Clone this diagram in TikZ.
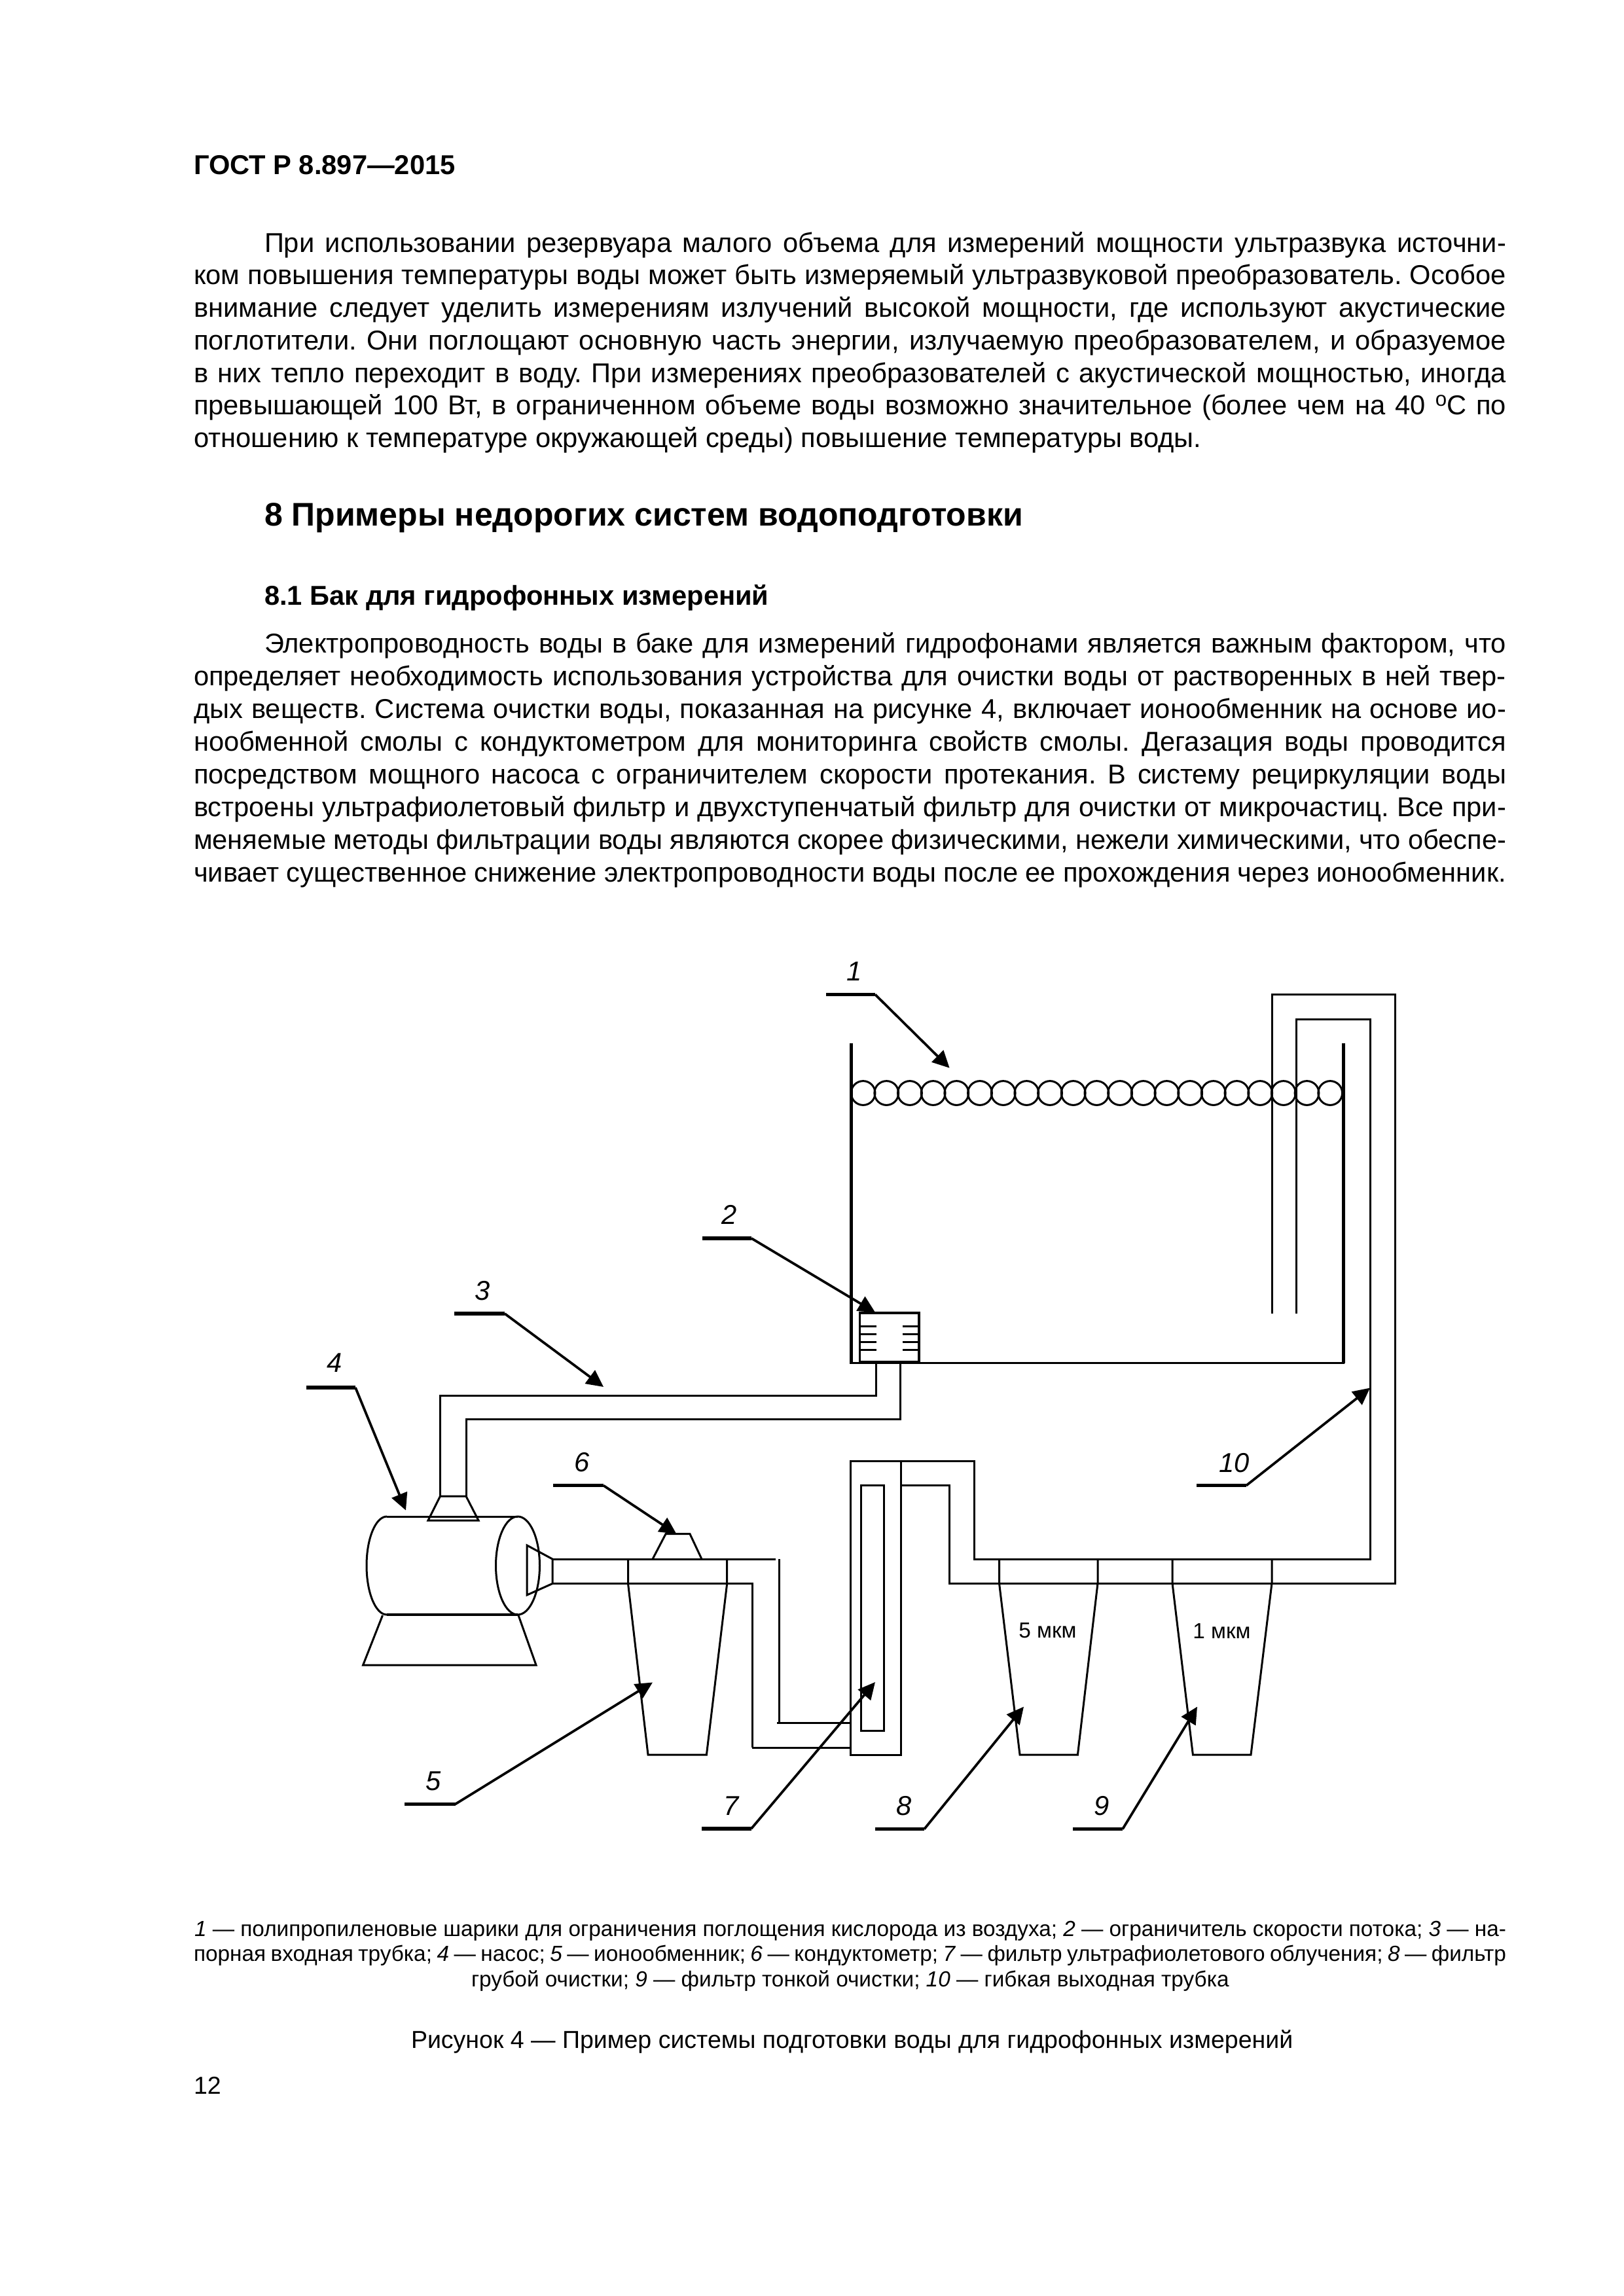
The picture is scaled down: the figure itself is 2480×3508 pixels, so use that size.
\documentclass[tikz,border=0pt]{standalone}
\usepackage{fontspec}
\setmainfont{Liberation Sans}
\usetikzlibrary{arrows.meta}
\frenchspacing
\newdimen\lw
\lw=0.24bp
\newcommand{\bodyfont}{\fontsize{10bp}{12bp}\selectfont}
\newcommand{\capfont}{\fontsize{8bp}{9.2bp}\selectfont}
\newcommand{\figfont}{\fontsize{9bp}{11bp}\selectfont}
% justified line: name, x, baseline y, text; right edge at 2301
\newcommand{\jline}[4]{\node[txt] (#1) at (#2,#3) {\bodyfont\frenchspacing\hbox to \dimexpr 2301\lw-#2\lw\relax{#4}};}
\newcommand{\cjline}[4]{\node[txt] (#1) at (#2,#3) {\capfont\frenchspacing\hbox to \dimexpr 2301\lw-#2\lw\relax{#4}};}
\newcommand{\pline}[4]{\node[txt] (#1) at (#2,#3) {\bodyfont #4};}
\newcommand{\leaderline}[8]{%
  \coordinate (#1a) at (#2,#3); \coordinate (#1b) at (#4,#3); \coordinate (#1c) at (#5,#6);
  \draw[leadh] (#1a) -- (#1b);
  \draw[leadd] (#1b) -- (#1c);
  \node[numlab] (#1t) at (#7,#8) {#1};}
\tikzset{
  txt/.style={anchor=base west,inner sep=0pt,outer sep=0pt},
  thinl/.style={line width=0.72bp,line join=miter},
  wall/.style={line width=1.2bp},
  boxl/.style={line width=0.85bp},
  leadh/.style={line width=1.25bp},
  leadd/.style={line width=0.9bp,-{Triangle[length=6.2bp,width=6bp]}},
  numlab/.style={inner sep=0pt,font=\fontsize{10bp}{12bp}\selectfont\itshape},
  mkm/.style={inner sep=0pt,font=\capfont}
}
\begin{document}
\begin{tikzpicture}[x=0.24bp,y=-0.24bp]
\useasboundingbox (0,0) rectangle (2480,3508);
\fill[white] (0,0) rectangle (2480,3508);
% ---------- header and text
\node[txt] (hdr) at (296,266.5) {\fontsize{10bp}{12bp}\selectfont\bfseries ГОСТ Р 8.897—2015};
\jline{a1}{404}{385}{При использовании резервуара малого объема для измерений мощности ультразвука источни-}
\jline{a2}{296}{434.7}{ком повышения температуры воды может быть измеряемый ультразвуковой преобразователь. Особое}
\jline{a3}{296}{484.5}{внимание следует уделить измерениям излучений высокой мощности, где используют акустические}
\jline{a4}{296}{534.3}{поглотители. Они поглощают основную часть энергии, излучаемую преобразователем, и образуемое}
\jline{a5}{296}{584.1}{в них тепло переходит в воду. При измерениях преобразователей с акустической мощностью, иногда}
\jline{a6}{296}{633.9}{превышающей 100 Вт, в ограниченном объеме воды возможно значительное (более чем на 40 \raisebox{0.33em}{\fontsize{7.5bp}{8bp}\selectfont о}С по}
\pline{a7}{296}{683.7}{отношению к температуре окружающей среды) повышение температуры воды.}
\node[txt] (h8) at (404,803.4) {\fontsize{12bp}{14bp}\selectfont\bfseries 8 Примеры недорогих систем водоподготовки};
\node[txt] (h81) at (404,924.8) {\fontsize{10bp}{12bp}\selectfont\bfseries 8.1 Бак для гидрофонных измерений};
\jline{b1}{404}{997}{Электропроводность воды в баке для измерений гидрофонами является важным фактором, что}
\jline{b2}{296}{1047.4}{определяет необходимость использования устройства для очистки воды от растворенных в ней твер-}
\jline{b3}{296}{1097.5}{дых веществ. Система очистки воды, показанная на рисунке 4, включает ионообменник на основе ио-}
\jline{b4}{296}{1147.6}{нообменной смолы с кондуктометром для мониторинга свойств смолы. Дегазация воды проводится}
\jline{b5}{296}{1197.6}{посредством мощного насоса с ограничителем скорости протекания. В систему рециркуляции воды}
\jline{b6}{296}{1247.6}{встроены ультрафиолетовый фильтр и двухступенчатый фильтр для очистки от микрочастиц. Все при-}
\jline{b7}{296}{1297.7}{меняемые методы фильтрации воды являются скорее физическими, нежели химическими, что обеспе-}
\jline{b8}{296}{1347.8}{чивает существенное снижение электропроводности воды после ее прохождения через ионообменник.}
% ---------- tank
\draw[wall] (1300,1593.5) -- (1300,2083);
\draw[wall] (2052,1593.5) -- (2052,2083);
\draw[thinl] (1298,2082) -- (2054,2082);
\foreach \i in {0,...,20} { \draw[thinl] ({1318.6+35.68*\i},1670) circle [radius=18.4]; }
% flexible outlet tube
\draw[thinl] (1943,2007) -- (1943,1519.5) -- (2131,1519.5) -- (2131,2419) -- (1450,2419) -- (1450,2269.6) -- (1376,2269.6);
\draw[thinl] (1980,2007) -- (1980,1557) -- (2093.5,1557) -- (2093.5,2382) -- (1488,2382) -- (1488,2232) -- (1376,2232);
% flow limiter
\draw[boxl] (1313.5,2006) rectangle (1404,2080.5);
\foreach \y in {2026,2038,2050,2062} {
  \draw[thinl] (1315,\y) -- (1339,\y);
  \draw[thinl] (1378.6,\y) -- (1403,\y);
}
% inlet pipe
\draw[thinl] (1338,2081) -- (1338,2132) -- (672.5,2132) -- (672.5,2286);
\draw[thinl] (1375,2081) -- (1375,2168.5) -- (712,2168.5) -- (712,2286);
% pump
\draw[thinl] (672.5,2286) -- (712,2286) -- (731,2323) -- (654,2323) -- cycle;
\draw[thinl] (591,2317) -- (791,2317);
\draw[boxl] (591,2467) -- (791,2467);
\draw[thinl] (591,2317) arc [start angle=270,end angle=90,x radius=31,y radius=75];
\draw[thinl] (791,2392) ellipse [x radius=33.5,y radius=75];
\draw[thinl] (584.5,2468) -- (554.6,2544) -- (819,2544) -- (792,2468);
\draw[thinl] (844,2382) -- (805,2361) -- (805,2437) -- (844,2419.5) -- cycle;
% pipe pump -> UV filter
\draw[thinl] (844,2382) -- (1185,2382);
\draw[thinl] (1190,2382) -- (1190,2632.5);
\draw[thinl] (1187,2632.5) -- (1299.5,2632.5);
\draw[thinl] (844,2419.5) -- (1149,2419.5) -- (1149,2670);
\draw[thinl] (1149,2670) -- (1299.5,2670);
% ion exchanger
\draw[thinl] (959.5,2382) -- (959.5,2419.5) -- (990,2681) -- (1079.4,2681) -- (1110.7,2419.5) -- (1110.7,2382);
% conductometer
\draw[thinl] (997,2382) -- (1017,2343.7) -- (1054,2343.7) -- (1072,2382);
% UV filter
\draw[thinl] (1299.5,2232) rectangle (1376,2681);
\draw[thinl] (1315,2269) rectangle (1350.5,2644.5);
% fine and coarse filters
\draw[thinl] (1526.5,2382) -- (1526.5,2419) -- (1558,2681) -- (1646.4,2681) -- (1677,2419) -- (1677,2382);
\draw[thinl] (1791,2382) -- (1791,2419) -- (1822.4,2681) -- (1911,2681) -- (1943,2419) -- (1943,2382);
\node[mkm] (m5) at (1600.5,2491.5) {5 мкм};
\node[mkm] (m1) at (1866.5,2491.5) {1 мкм};
% ---------- leaders
\leaderline{1}{1262}{1519.5}{1337}{1450.6}{1631.7}{1305}{1484}
\leaderline{2}{1073}{1892}{1148}{1337}{2005}{1114}{1856}
\leaderline{3}{694}{2007}{771}{922}{2119}{737}{1972}
\leaderline{4}{468}{2120}{543}{620}{2307.6}{511}{2082.5}
\leaderline{5}{618}{2756.5}{695.5}{997}{2570.5}{662}{2721}
\leaderline{6}{845}{2269.7}{922}{1033.5}{2343.7}{889}{2234}
\leaderline{7}{1072}{2794}{1147.7}{1337}{2570}{1117}{2759}
\leaderline{8}{1337}{2794.6}{1412}{1564}{2607.6}{1381}{2759}
\leaderline{9}{1639}{2794.6}{1715}{1829}{2607.6}{1683}{2759}
\leaderline{10}{1828}{2269.6}{1904}{2093}{2120.5}{1885.6}{2235}
% ---------- caption
\cjline{c1}{297}{2958.3}{\textit{1} — полипропиленовые шарики для ограничения поглощения кислорода из воздуха; \textit{2} — ограничитель скорости потока; \textit{3} — на-}
\cjline{c2}{296}{2996.7}{порная входная трубка; \textit{4} — насос; \textit{5} — ионообменник; \textit{6} — кондуктометр; \textit{7} — фильтр ультрафиолетового облучения; \textit{8} — фильтр}
\node[txt] (c3) at (720,3035) {\capfont грубой очистки; \textit{9} — фильтр тонкой очистки; \textit{10} — гибкая выходная трубка};
\node[txt] (fig) at (628,3129.3) {\figfont Рисунок 4 — Пример системы подготовки воды для гидрофонных измерений};
\node[txt] (pg) at (296,3199) {\figfont 12};
\end{tikzpicture}
\end{document}
